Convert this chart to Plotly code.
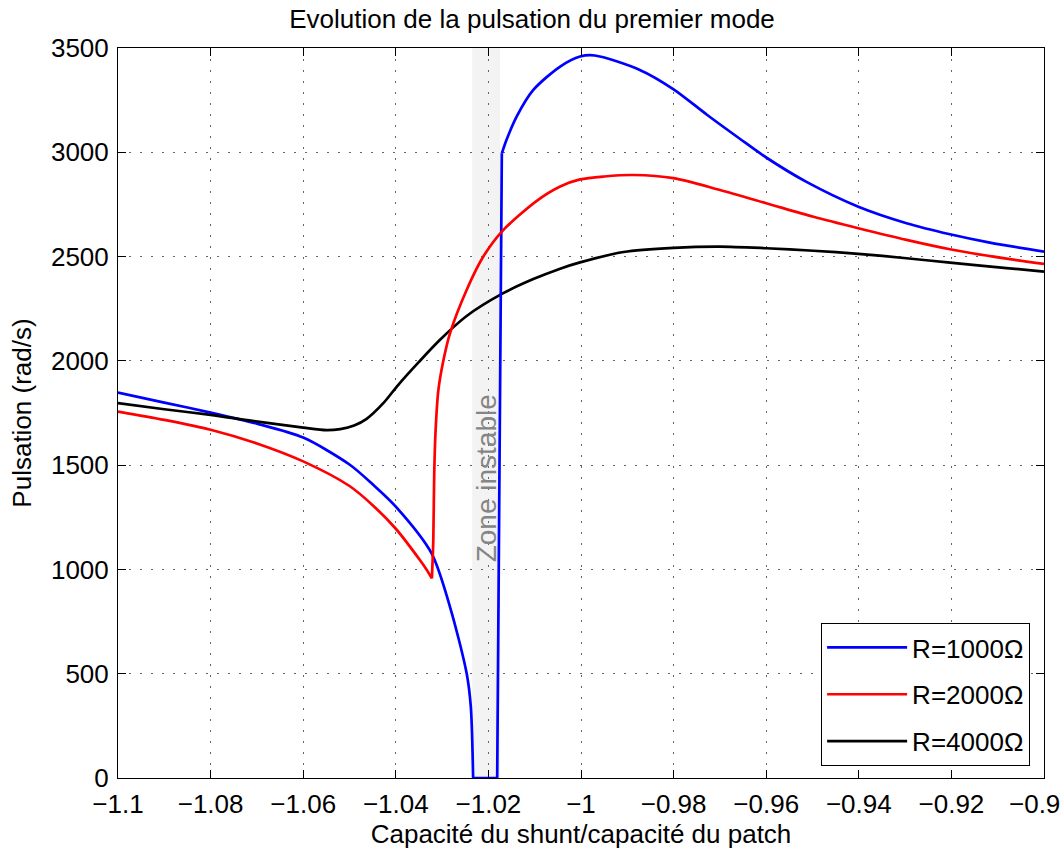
import plotly.graph_objects as go

# rapport capacité shunt / capacité patch et pulsations
x_r1000 = [-1.100, -1.090, -1.080, -1.070, -1.060, -1.050, -1.045,
           -1.040, -1.0323, -1.0283, -1.0247, -1.0238, -1.0233,
           -1.0181, -1.0171,
           -1.0161, -1.0139, -1.0103, -1.0045, -1.0002, -0.997, -0.9873, -0.980,
           -0.9728, -0.9657, -0.960, -0.9513, -0.9401, -0.9297, -0.9203, -0.9117,
           -0.900]
w_r1000 = [1848, 1800, 1752, 1699, 1632, 1503, 1408,
           1301, 1078, 821, 502, 342, 0,
           0, 2995,
           3059, 3171, 3299, 3411, 3459, 3464, 3395, 3302,
           3180, 3065, 2975, 2858, 2739, 2660, 2607, 2567,
           2524]

x_r2000 = [-1.100, -1.090, -1.080, -1.070, -1.060, -1.050, -1.045, -1.040,
           -1.0348, -1.0333, -1.0322,
           -1.0319, -1.0317, -1.0314, -1.0308, -1.0297, -1.0283, -1.0247, -1.0211,
           -1.0171, -1.0097, -1.0045, -1.0002, -0.995, -0.9887, -0.980, -0.970,
           -0.960, -0.9498, -0.9401, -0.9297, -0.9203, -0.9081, -0.900]
w_r2000 = [1757, 1717, 1670, 1604, 1518, 1400, 1308, 1195,
           1045, 997, 957,
           1141, 1461, 1669, 1861, 2004, 2132, 2340, 2500,
           2620, 2765, 2836, 2870, 2884, 2891, 2876, 2819,
           2756, 2691, 2636, 2580, 2535, 2490, 2465]

x_r4000 = [-1.100, -1.090, -1.080, -1.071, -1.060, -1.055, -1.052, -1.049, -1.0463,
           -1.0427, -1.0395, -1.035, -1.0305, -1.0247, -1.0171, -1.0103, -1.0045,
           -1.0002, -0.9908, -0.980, -0.970, -0.960, -0.9498, -0.9401, -0.9297,
           -0.9203, -0.9081, -0.900]
w_r4000 = [1797, 1768, 1741, 1712, 1680, 1668, 1673, 1690, 1722,
           1797, 1884, 1995, 2100, 2215, 2321, 2392, 2442,
           2472, 2522, 2542, 2548, 2540, 2528, 2513, 2492,
           2471, 2445, 2428]

# zone instable
zone_x = [-1.0235, -1.0175]

x_ticks = [-1.1, -1.08, -1.06, -1.04, -1.02, -1.0, -0.98, -0.96, -0.94, -0.92, -0.9]
x_labels = ["−1.1", "−1.08", "−1.06", "−1.04", "−1.02", "−1", "−0.98", "−0.96",
            "−0.94", "−0.92", ""]
dernier_label = "−0.9"   # placé à part, calé sur le bord droit comme dans MATLAB
y_ticks = [0, 500, 1000, 1500, 2000, 2500, 3000, 3500]

police = "Liberation Sans, Arial, Helvetica, sans-serif"

# indices des points anguleux (passage à zéro, remontée, minimum du rouge)
i_zero = w_r1000.index(0)
i_remonte = i_zero + 2
i_creux = w_r2000.index(min(w_r2000))


def courbe(x, y, nom, couleur, forme="spline", legende=True):
    return go.Scatter(x=x, y=y, mode="lines", name=nom, legendgroup=nom,
                      showlegend=legende,
                      line=dict(color=couleur, width=2.7, shape=forme, smoothing=0.8))


fig = go.Figure()

fig.add_trace(courbe(x_r1000[:i_zero + 1], w_r1000[:i_zero + 1], "R=1000Ω", "#0000ff"))
fig.add_trace(courbe(x_r2000[:i_creux + 1], w_r2000[:i_creux + 1], "R=2000Ω", "#ff0000"))
fig.add_trace(courbe(x_r4000, w_r4000, "R=4000Ω", "#000000"))
fig.add_trace(courbe(x_r1000[i_zero:i_remonte + 1], w_r1000[i_zero:i_remonte + 1],
                     "R=1000Ω", "#0000ff", forme="linear", legende=False))
fig.add_trace(courbe(x_r1000[i_remonte:], w_r1000[i_remonte:], "R=1000Ω", "#0000ff",
                     legende=False))
fig.add_trace(courbe(x_r2000[i_creux:], w_r2000[i_creux:], "R=2000Ω", "#ff0000",
                     legende=False))

fig.add_shape(type="rect", xref="x", yref="paper", x0=zone_x[0], x1=zone_x[1],
              y0=0, y1=1, fillcolor="#f3f3f3", line_width=0, layer="below")

fig.add_annotation(x=(zone_x[0] + zone_x[1]) / 2, y=1437, text="Zone instable",
                   textangle=-90, showarrow=False,
                   font=dict(family=police, size=28, color="#858585"))

fig.add_annotation(x=1, y=0, xref="paper", yref="paper", text=dernier_label,
                   xanchor="right", yanchor="middle", xshift=18, yshift=-26,
                   showarrow=False, font=dict(family=police, size=26, color="black"))

axe = dict(showline=True, linecolor="black", linewidth=1, mirror="ticks",
           ticks="inside", ticklen=8, tickwidth=1, tickcolor="black",
           showgrid=True, gridcolor="#666666", gridwidth=1, griddash="2px,9px",
           zeroline=False, automargin=False,
           tickfont=dict(family=police, size=26, color="black"))

fig.update_layout(
    width=1064, height=849,
    margin=dict(l=118, r=20, t=48, b=71),
    paper_bgcolor="white", plot_bgcolor="white",
    font=dict(family=police, size=26, color="black"),
    title=dict(text="Evolution de la pulsation du premier mode",
               x=0.5, xanchor="center", y=1 - 19 / 849, yanchor="middle",
               yref="container", font=dict(size=26)),
    xaxis=dict(axe, range=[-1.1, -0.9], tickvals=x_ticks, ticktext=x_labels,
               ticklabelstandoff=3,
               title=dict(text="Capacité du shunt/capacité du patch", standoff=3,
                          font=dict(size=26))),
    yaxis=dict(axe, range=[0, 3500], tickvals=y_ticks, ticklabelstandoff=3,
               title=dict(text="Pulsation (rad/s)", standoff=11,
                          font=dict(size=26))),
    legend=dict(x=0.985, y=0.0164, xanchor="right", yanchor="bottom",
                bgcolor="white", bordercolor="black", borderwidth=1,
                itemwidth=80, font=dict(family=police, size=26)),
    showlegend=True,
)

fig.write_html("out.html", config={"displayModeBar": False},
               post_script="document.body.style.margin='0';")
